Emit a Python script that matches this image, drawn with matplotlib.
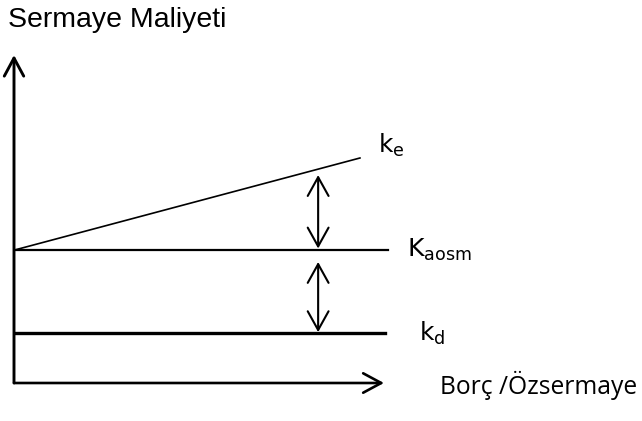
import matplotlib
matplotlib.use("Agg")
import matplotlib.pyplot as plt

# sermaye maliyeti - borc/ozsermaye (sabit K_aosm, MM yaklasimi)
borc_oran = [0, 9.35]          # borc / ozsermaye
ke = [4.05, 6.86]              # ozsermaye maliyeti
kaosm = [4.05, 4.05]           # agirlikli ortalama sermaye maliyeti
kd = [1.52, 1.52]              # borc maliyeti
yatay_son = [10.1, 10.03]      # Kaosm ve kd cizgi sonu

etiket_font = "Open Sans"
plt.rcParams["mathtext.fontset"] = "custom"
plt.rcParams["mathtext.rm"] = etiket_font
plt.rcParams["mathtext.it"] = etiket_font

fig = plt.figure(figsize=(6.42, 4.21), dpi=100)
ax = fig.add_axes([14 / 642, 38 / 421, 370 / 642, 328 / 421])
ax.set_xlim(0, 10)
ax.set_ylim(0, 10)
ax.axis("off")

ok_stil = "->,head_length=1.3,head_width=0.7"
cift_stil = "<->,head_length=1.35,head_width=0.75"

# eksenler
ax.annotate("", xy=(0, 10), xytext=(0, 0),
            arrowprops=dict(arrowstyle=ok_stil, lw=2.1, color="black",
                            shrinkA=0, shrinkB=0), annotation_clip=False)
ax.annotate("", xy=(10.0, 0), xytext=(0, 0),
            arrowprops=dict(arrowstyle=ok_stil, lw=1.9, color="black",
                            shrinkA=0, shrinkB=0), annotation_clip=False)

# cizgiler
ax.plot(borc_oran, ke, color="black", lw=1.2, clip_on=False)
ax.plot([0.05, yatay_son[0]], kaosm, color="black", lw=1.6, clip_on=False)
ax.plot([0.05, yatay_son[1]], kd, color="black", lw=2.4, clip_on=False)

# cift yonlu oklar
x_ok = 8.22
ax.annotate("", xy=(x_ok, 4.1), xytext=(x_ok, 6.34),
            arrowprops=dict(arrowstyle=cift_stil, lw=1.5, color="black",
                            shrinkA=0, shrinkB=0))
ax.annotate("", xy=(x_ok, 1.55), xytext=(x_ok, 3.69),
            arrowprops=dict(arrowstyle=cift_stil, lw=1.5, color="black",
                            shrinkA=0, shrinkB=0))

# etiketler
fig.text(8 / 642, 1 - 20 / 421, "Sermaye Maliyeti", fontsize=20.5, family="Liberation Sans",
         va="center", ha="left")
fig.text(378 / 642, 1 - 145 / 421, r"$\mathregular{k_e}$", fontsize=18, va="center", ha="left")
fig.text(407 / 642, 1 - 250 / 421, r"$\mathregular{K_{aosm}}$", fontsize=18, va="center", ha="left")
fig.text(419 / 642, 1 - 333 / 421, r"$\mathregular{k_d}$", fontsize=18, va="center", ha="left")
fig.text(440 / 642, 1 - 385 / 421, "Borç /Özsermaye", fontsize=17.7, family=etiket_font,
         va="center", ha="left")

fig.savefig("out.png", dpi=100)
